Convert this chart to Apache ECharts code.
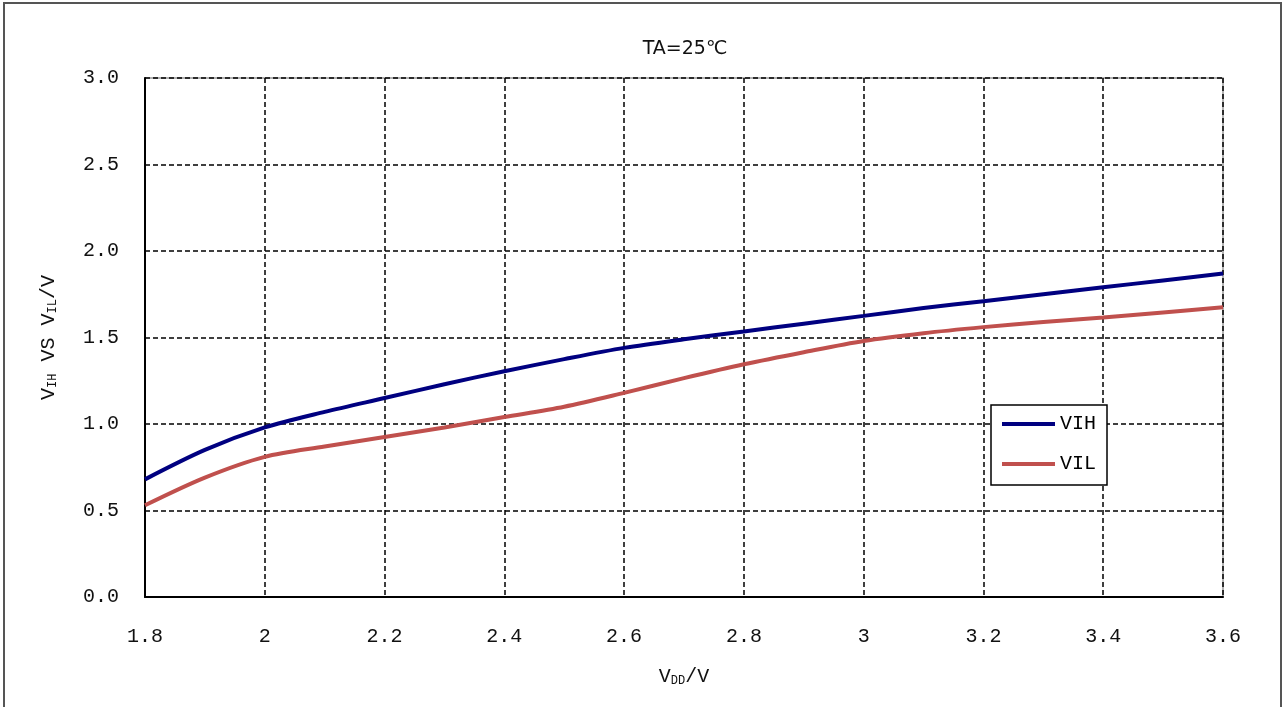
<!DOCTYPE html>
<html>
<head>
<meta charset="utf-8">
<script src="https://cdn.jsdelivr.net/npm/echarts@6/dist/echarts.min.js"></script>
<style>
  html, body { margin: 0; padding: 0; background: #fff; }
  #chart { width: 1284px; height: 707px; }
</style>
</head>
<body>
<div id="chart"></div>
<script>
// supply voltage (V)
var vdd = [1.8, 1.9, 2.0, 2.1, 2.2, 2.3, 2.4, 2.5, 2.6, 2.7, 2.8, 2.9, 3.0, 3.1, 3.2, 3.3, 3.4, 3.5, 3.6];
// input high / low thresholds
var vih = [0.68, 0.85, 0.98, 1.07, 1.15, 1.23, 1.305, 1.375, 1.44, 1.49, 1.535, 1.58, 1.625, 1.67, 1.71, 1.75, 1.79, 1.83, 1.87];
var vil = [0.53, 0.69, 0.81, 0.87, 0.925, 0.98, 1.04, 1.10, 1.18, 1.265, 1.345, 1.415, 1.48, 1.525, 1.56, 1.59, 1.615, 1.645, 1.675];
var seriesNames = ['VIH', 'VIL'];

var chartDom = document.getElementById('chart');
var myChart = echarts.init(chartDom);
var option;

function pairs(xs, ys) {
  var out = [];
  for (let i = 0; i < xs.length; i++) {
    out.push([xs[i], ys[i]]);
  }
  return out;
}

var mono = '"Liberation Mono", "DejaVu Sans Mono", monospace';

option = {
  backgroundColor: '#fff',
  animation: false,
  title: {
    text: 'TA=25℃',
    left: 680,
    top: 35,
    textAlign: 'center',
    textStyle: { fontFamily: '"DejaVu Sans", sans-serif', fontSize: 19, fontWeight: 'normal', color: '#111' }
  },
  graphic: [
    {
      type: 'rect',
      shape: { x: 4, y: 3, width: 1277, height: 720 },
      style: { fill: 'none', stroke: '#555', lineWidth: 2 },
      silent: true
    }
  ],
  legend: {
    data: seriesNames,
    orient: 'vertical',
    left: 991,
    top: 405,
    padding: [9, 11, 11, 11],
    itemGap: 20,
    itemWidth: 53,
    itemHeight: 4,
    icon: 'rect',
    backgroundColor: '#fff',
    borderColor: '#000',
    borderWidth: 1.5,
    textStyle: { fontFamily: mono, fontSize: 20, color: '#000' }
  },
  grid: {
    left: 145,
    right: 61,
    top: 78,
    bottom: 110,
    show: true,
    borderColor: '#999',
    borderWidth: 1.5,
    containLabel: false
  },
  xAxis: {
    type: 'value',
    min: 1.8,
    max: 3.6,
    interval: 0.2,
    name: 'V{sub|DD}/V',
    nameLocation: 'middle',
    nameGap: 70,
    nameTextStyle: {
      fontFamily: mono, fontSize: 20, color: '#111',
      rich: { sub: { fontFamily: mono, fontSize: 12, color: '#111', verticalAlign: 'bottom', padding: [8, 0, 0, 0] } }
    },
    axisLine: { lineStyle: { color: '#000', width: 2 } },
    axisTick: { show: false },
    axisLabel: {
      margin: 30,
      fontFamily: mono,
      fontSize: 20,
      color: '#111',
      formatter: function (v) { return String(parseFloat(v.toFixed(1))); }
    },
    splitLine: { show: true, lineStyle: { color: '#000', type: [5, 3], width: 1.5 } }
  },
  yAxis: {
    type: 'value',
    min: 0,
    max: 3,
    interval: 0.5,
    name: 'V{sub|IH} VS V{sub|IL}/V',
    nameLocation: 'middle',
    nameRotate: 90,
    nameGap: 86,
    nameTextStyle: {
      fontFamily: mono, fontSize: 20, color: '#111',
      rich: { sub: { fontFamily: mono, fontSize: 12, color: '#111', verticalAlign: 'bottom', padding: [8, 0, 0, 0] } }
    },
    axisLine: { show: true, lineStyle: { color: '#000', width: 2 } },
    axisTick: { show: false },
    axisLabel: {
      margin: 26,
      fontFamily: mono,
      fontSize: 20,
      color: '#111',
      formatter: function (v) { return v.toFixed(1); }
    },
    splitLine: { show: true, lineStyle: { color: '#000', type: [5, 3], width: 1.5 } }
  },
  series: [
    {
      name: seriesNames[0],
      type: 'line',
      smooth: 0.3,
      showSymbol: false,
      data: pairs(vdd, vih),
      lineStyle: { color: '#000080', width: 4 },
      itemStyle: { color: '#000080' },
      z: 3
    },
    {
      name: seriesNames[1],
      type: 'line',
      smooth: 0.3,
      showSymbol: false,
      data: pairs(vdd, vil),
      lineStyle: { color: '#C0504D', width: 4 },
      itemStyle: { color: '#C0504D' },
      z: 3
    }
  ]
};

option && myChart.setOption(option);
</script>
</body>
</html>
